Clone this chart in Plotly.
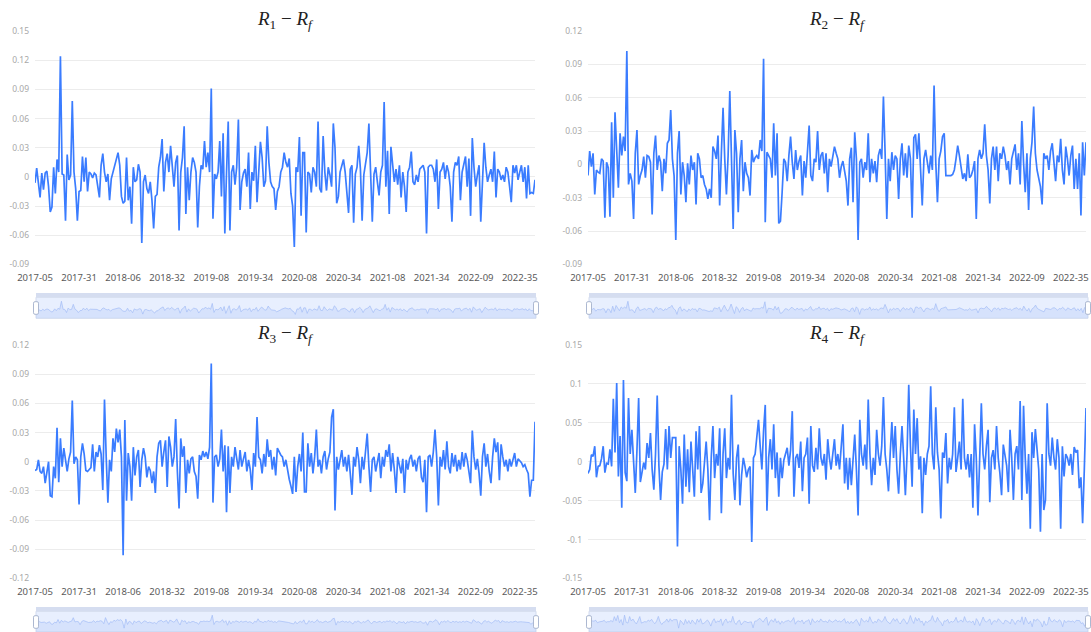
import plotly.graph_objects as go

# ---------------- data ----------------
week_ticks = ["2017-05", "2017-31", "2018-06", "2018-32", "2019-08", "2019-34",
              "2020-08", "2020-34", "2021-08", "2021-34", "2022-09", "2022-35"]

r1 = [
    -0.006, 0.009, -0.006, -0.021, 0.004, -0.013, 0.004, 0.006, -0.010, -0.036,
    -0.031, 0.010, -0.017, 0.018, 0.005, 0.124, 0.003, 0.002, -0.045, 0.023,
    -0.003, 0.002, 0.078, 0.005, -0.012, -0.045, -0.015, -0.014, 0.021, -0.005,
    0.020, -0.015, 0.005, 0.003, -0.001, 0.004, 0.002, -0.012, -0.021, 0.012,
    0.024, 0.005, -0.005, 0.003, -0.024, -0.002, 0.005, 0.012, 0.018, 0.025,
    0.012, -0.020, -0.027, -0.025, 0.020, -0.024, -0.010, -0.048, 0.010, -0.005,
    -0.003, 0.013, 0.005, -0.068, -0.005, 0.002, -0.012, -0.017, -0.005, -0.024,
    -0.053, -0.020, -0.018, 0.010, 0.020, 0.039, -0.015, 0.015, 0.024, 0.005,
    0.032, 0.010, -0.010, 0.015, 0.022, -0.055, 0.005, 0.020, 0.052, -0.038,
    0.010, -0.024, 0.005, 0.020, 0.015, 0.005, -0.052, -0.010, 0.012, 0.008,
    0.037, 0.010, 0.025, 0.005, 0.091, -0.043, 0.003, -0.002, 0.005, 0.037,
    -0.020, 0.045, -0.058, 0.005, 0.057, -0.055, 0.005, 0.012, -0.008, 0.010,
    0.059, -0.034, -0.005, 0.004, 0.008, -0.010, 0.025, -0.033, 0.005, -0.004,
    0.032, -0.026, 0.010, 0.036, 0.020, -0.010, -0.004, 0.052, 0.015, -0.005,
    -0.010, -0.012, -0.034, -0.015, -0.010, 0.005, 0.010, 0.025, 0.015, 0.010,
    0.019, -0.017, -0.030, -0.072, 0.010, 0.005, 0.041, -0.040, 0.025, 0.025,
    -0.057, 0.005, 0.003, -0.016, 0.010, 0.005, -0.010, 0.057, -0.012, -0.016,
    0.042, 0.005, -0.014, 0.010, 0.002, -0.010, 0.055, 0.030, -0.027, -0.020,
    0.005, 0.012, 0.018, 0.005, -0.015, -0.037, 0.008, 0.012, -0.047, 0.003,
    0.010, 0.032, 0.008, -0.045, 0.002, 0.015, 0.025, 0.055, 0.010, -0.046,
    0.003, 0.010, -0.005, -0.019, 0.005, 0.012, 0.077, -0.010, 0.027, -0.038,
    0.031, 0.010, -0.005, 0.008, -0.008, 0.012, -0.021, 0.005, -0.010, -0.036,
    0.005, 0.010, 0.026, -0.005, -0.008, 0.002, -0.005, 0.008, 0.010, 0.012,
    0.005, -0.058, 0.010, 0.012, 0.012, 0.008, -0.005, 0.018, -0.033, 0.005,
    0.008, 0.015, -0.002, 0.012, 0.005, -0.010, -0.046, 0.005, 0.015, 0.012,
    0.021, -0.024, 0.005, 0.015, 0.021, -0.010, 0.019, -0.040, 0.040, 0.010,
    -0.010, 0.002, 0.012, -0.046, -0.010, 0.035, 0.010, -0.005, 0.002, 0.008,
    -0.005, 0.026, -0.021, 0.008, 0.005, -0.003, 0.002, -0.005, 0.010, 0.005,
    -0.010, -0.026, 0.012, 0.004, 0.012, -0.003, 0.005, 0.012, -0.005, 0.010,
    -0.022, 0.012, -0.017, -0.016, -0.017, -0.003,
]

r2 = [
    -0.010, 0.012, -0.002, 0.010, -0.027, -0.005, -0.007, -0.008, 0.005, 0.003,
    -0.048, 0.002, -0.003, -0.047, 0.038, -0.030, 0.047, 0.006, -0.021, 0.028,
    0.008, 0.025, 0.012, 0.102, -0.018, -0.008, -0.015, -0.049, 0.010, 0.031,
    -0.018, -0.010, -0.005, 0.007, -0.012, 0.008, 0.007, 0.002, -0.045, 0.010,
    0.026, -0.005, 0.008, 0.002, -0.024, 0.005, -0.008, 0.019, 0.022, 0.049,
    0.005, -0.010, -0.068, 0.010, 0.030, -0.027, 0.002, -0.010, -0.034, 0.001,
    -0.018, 0.008, -0.005, 0.002, -0.036, 0.010, 0.005, -0.012, -0.010, -0.018,
    -0.022, -0.031, -0.022, -0.030, 0.016, 0.012, 0.005, 0.026, -0.037, 0.010,
    0.051, 0.005, -0.027, 0.008, 0.066, 0.005, -0.058, 0.031, 0.010, -0.043,
    0.005, 0.022, -0.024, 0.002, -0.008, -0.012, -0.028, 0.013, 0.002, 0.006,
    0.008, 0.005, 0.022, 0.012, 0.095, -0.052, 0.011, 0.008, 0.005, -0.012,
    0.037, -0.010, 0.028, -0.053, -0.051, -0.025, 0.005, 0.002, -0.015, 0.008,
    0.025, 0.002, -0.013, 0.013, -0.005, 0.003, 0.008, -0.028, 0.003, -0.012,
    0.012, 0.035, -0.010, -0.015, 0.005, 0.002, 0.030, -0.005, 0.008, 0.011,
    -0.008, 0.010, -0.025, 0.005, -0.002, 0.008, 0.016, 0.010, 0.005, -0.012,
    -0.002, 0.003, -0.008, -0.015, -0.037, 0.005, 0.015, -0.034, 0.029, 0.005,
    -0.068, 0.002, 0.005, -0.012, 0.002, -0.005, 0.028, -0.016, 0.005, -0.008,
    0.003, -0.016, 0.008, 0.014, 0.005, 0.061, 0.010, -0.049, 0.005, -0.015,
    0.011, -0.005, 0.008, 0.005, -0.031, 0.005, 0.019, -0.010, 0.010, -0.012,
    0.017, 0.005, -0.048, 0.024, 0.027, 0.005, 0.028, -0.010, -0.037, 0.005,
    0.013, 0.002, -0.008, 0.008, -0.005, 0.071, 0.002, -0.034, 0.005, 0.012,
    0.025, 0.028, -0.010, -0.010, -0.010, -0.010, -0.009, -0.005, 0.005, 0.017,
    0.008, -0.005, -0.013, -0.008, -0.015, 0.009, -0.012, -0.010, -0.005, 0.003,
    -0.049, 0.005, 0.013, 0.005, 0.010, 0.036, 0.008, -0.005, -0.035, 0.005,
    0.016, -0.005, 0.016, -0.015, 0.010, 0.005, 0.016, 0.008, -0.005, 0.003,
    -0.018, 0.005, 0.012, 0.018, -0.005, 0.010, -0.018, 0.039, 0.002, -0.025,
    0.010, -0.041, 0.005, 0.020, 0.052, 0.010, -0.005, -0.012, -0.020, -0.036,
    0.010, 0.005, 0.008, -0.005, 0.012, 0.019, 0.005, -0.015, 0.008, 0.002,
    0.023, -0.005, -0.018, 0.016, 0.005, -0.010, 0.008, 0.017, -0.022, 0.005,
    -0.022, 0.010, -0.046, 0.020, -0.010, 0.020,
]

r3 = [
    -0.009, -0.008, 0.002, -0.010, -0.012, -0.005, -0.022, -0.008, 0.000, -0.035,
    -0.036, -0.005, -0.017, 0.035, -0.021, 0.024, -0.005, 0.014, 0.002, -0.010,
    0.003, 0.010, 0.063, -0.002, 0.005, 0.002, -0.044, 0.005, 0.019, 0.008,
    -0.009, -0.010, -0.008, -0.006, 0.018, -0.010, 0.010, 0.005, 0.017, 0.008,
    -0.029, 0.064, 0.005, -0.042, 0.002, -0.010, 0.024, 0.010, 0.034, 0.020,
    0.033, 0.005, -0.096, 0.043, -0.040, 0.009, -0.005, -0.040, 0.015, -0.014,
    0.005, 0.012, -0.026, 0.002, 0.014, 0.005, -0.016, -0.005, -0.009, -0.022,
    -0.010, -0.032, 0.005, 0.019, 0.022, -0.005, 0.010, 0.022, -0.026, 0.026,
    0.015, -0.005, 0.005, 0.044, -0.010, -0.048, 0.024, 0.005, 0.016, -0.032,
    0.002, -0.012, 0.003, 0.005, -0.010, -0.015, -0.038, 0.007, 0.002, 0.011,
    0.005, 0.010, 0.003, 0.015, 0.101, -0.042, 0.005, 0.007, -0.005, 0.003,
    0.033, -0.010, 0.017, -0.052, 0.016, -0.032, 0.005, -0.005, 0.015, 0.002,
    -0.008, 0.012, -0.005, 0.003, 0.010, -0.010, 0.002, -0.008, -0.029, 0.009,
    -0.005, 0.046, 0.005, 0.002, -0.012, 0.008, -0.005, 0.023, 0.005, 0.012,
    -0.008, 0.005, -0.014, 0.014, 0.010, 0.007, 0.005, -0.005, 0.002, -0.010,
    -0.018, -0.025, -0.033, 0.005, -0.031, -0.005, 0.008, -0.010, 0.030, -0.031,
    -0.031, 0.019, -0.005, 0.009, -0.012, 0.005, 0.033, -0.005, 0.002, -0.012,
    0.005, 0.011, -0.008, 0.003, 0.010, 0.046, 0.054, -0.050, 0.005, -0.008,
    0.002, 0.012, -0.005, 0.005, -0.010, 0.007, -0.012, -0.034, 0.005, -0.005,
    0.015, 0.002, -0.022, 0.005, -0.008, 0.010, 0.029, -0.005, -0.031, 0.002,
    0.005, -0.010, 0.002, 0.009, -0.017, 0.005, -0.005, 0.012, 0.005, 0.018,
    -0.010, 0.009, -0.008, -0.032, 0.005, -0.002, -0.012, 0.003, -0.032, 0.002,
    -0.008, 0.003, 0.007, -0.005, 0.002, -0.010, 0.003, 0.006, -0.016, -0.021,
    0.002, -0.052, 0.005, 0.007, -0.005, 0.010, 0.033, 0.005, -0.045, 0.005,
    -0.005, 0.012, -0.008, 0.021, -0.005, -0.012, 0.009, -0.005, 0.007, -0.010,
    0.002, -0.008, 0.010, -0.005, 0.009, 0.002, -0.010, -0.022, 0.032, 0.005,
    -0.008, 0.003, -0.012, -0.035, 0.005, 0.019, -0.005, 0.008, -0.010, -0.022,
    0.005, 0.024, 0.010, 0.020, -0.019, 0.018, 0.005, -0.005, 0.002, -0.010,
    0.003, -0.005, 0.002, 0.009, -0.005, 0.003, 0.001, -0.001, -0.005, -0.003,
    -0.008, -0.012, -0.036, -0.019, -0.019, 0.041,
]

r4 = [
    -0.015, -0.010, 0.009, 0.007, 0.020, -0.020, -0.006, -0.005, 0.004, 0.020,
    -0.014, -0.002, -0.003, 0.016, -0.006, 0.081, 0.012, 0.101, -0.019, 0.033,
    -0.059, 0.105, -0.014, -0.025, 0.082, 0.010, 0.041, -0.005, -0.040, 0.015,
    0.082, -0.026, -0.014, -0.001, -0.010, 0.024, 0.005, 0.037, -0.010, -0.036,
    0.010, 0.085, -0.005, -0.049, -0.013, -0.003, 0.042, -0.010, 0.046, 0.005,
    0.031, 0.031, 0.031, -0.109, 0.020, -0.010, -0.054, 0.035, -0.032, 0.016,
    -0.039, 0.026, -0.010, -0.045, 0.039, -0.010, 0.046, -0.040, -0.028, 0.005,
    0.026, -0.010, -0.075, 0.005, 0.046, -0.021, 0.010, -0.005, 0.043, -0.066,
    0.010, 0.043, -0.021, 0.005, -0.010, 0.086, -0.015, -0.049, 0.005, 0.022,
    -0.056, -0.017, 0.005, -0.006, -0.020, -0.010, -0.006, -0.103, 0.005, 0.010,
    0.035, 0.054, 0.020, -0.010, 0.040, 0.073, -0.063, 0.005, 0.029, -0.010,
    0.048, -0.021, 0.012, -0.045, 0.005, -0.021, 0.002, 0.010, 0.018, -0.005,
    0.015, 0.065, -0.045, 0.005, 0.010, -0.008, 0.026, -0.038, 0.005, 0.010,
    0.031, -0.054, 0.046, -0.005, -0.013, 0.018, -0.010, 0.043, 0.005, -0.005,
    0.010, -0.023, 0.029, 0.005, -0.010, 0.010, 0.029, -0.005, 0.010, -0.010,
    0.020, 0.048, -0.028, 0.005, -0.036, 0.005, -0.030, 0.010, 0.035, -0.010,
    -0.069, 0.054, 0.010, -0.005, 0.022, -0.010, 0.080, 0.010, -0.030, 0.005,
    -0.017, 0.041, 0.010, -0.005, 0.020, 0.083, 0.010, -0.010, -0.038, 0.010,
    0.051, 0.005, 0.046, -0.010, -0.041, 0.010, 0.046, 0.005, -0.043, 0.010,
    0.099, 0.020, -0.032, 0.067, 0.010, 0.056, -0.010, 0.007, -0.066, 0.005,
    -0.017, 0.010, 0.020, 0.097, 0.010, -0.010, 0.070, 0.012, -0.010, -0.073,
    0.012, 0.005, 0.037, -0.028, 0.005, -0.010, 0.010, 0.070, -0.013, 0.005,
    0.026, -0.010, 0.081, 0.005, -0.010, 0.010, -0.020, 0.010, -0.059, 0.048,
    0.005, -0.069, 0.010, 0.075, 0.010, -0.010, 0.020, 0.041, -0.052, 0.005,
    0.015, -0.010, 0.046, 0.005, -0.015, -0.043, 0.022, 0.010, -0.005, -0.039,
    0.041, 0.005, -0.049, 0.010, 0.020, -0.010, 0.078, -0.049, 0.072, 0.005,
    -0.041, 0.010, -0.086, 0.038, 0.005, 0.042, 0.010, -0.010, -0.090, 0.010,
    -0.062, -0.049, 0.075, 0.010, -0.005, 0.031, 0.005, -0.010, 0.029, 0.005,
    -0.086, 0.020, -0.019, 0.010, 0.005, -0.005, 0.010, -0.017, 0.019, 0.012,
    0.015, -0.034, -0.020, -0.079, -0.010, 0.069,
]

y1_ticks = [-0.09, -0.06, -0.03, 0, 0.03, 0.06, 0.09, 0.12, 0.15]
y2_ticks = [-0.09, -0.06, -0.03, 0, 0.03, 0.06, 0.09, 0.12]
y3_ticks = [-0.12, -0.09, -0.06, -0.03, 0, 0.03, 0.06, 0.09, 0.12]
y4_ticks = [-0.15, -0.1, -0.05, 0, 0.05, 0.1, 0.15]

titles = [
    "<i>R</i><sub>1</sub> − <i>R</i><sub><i>f</i></sub>",
    "<i>R</i><sub>2</sub> − <i>R</i><sub><i>f</i></sub>",
    "<i>R</i><sub>3</sub> − <i>R</i><sub><i>f</i></sub>",
    "<i>R</i><sub>4</sub> − <i>R</i><sub><i>f</i></sub>",
]

# ---------------- layout geometry (pixels) ----------------
W, H = 1091, 632
BLUE = "#3a7cff"
TICK_STEP = 26


def fx(p):
    return p / W


def fy(p):
    return 1 - p / H


# (left, right, top, bottom) of plot area; slider (left, right, strip_top, body_top, bottom)
panels = [
    dict(y=r1, ticks=y1_ticks, title=titles[0], box=(35, 535, 31, 264.5),
         slider=(36, 536, 293, 297.3, 318.3)),
    dict(y=r2, ticks=y2_ticks, title=titles[1], box=(588, 1086, 31, 264.5),
         slider=(589, 1088, 293, 297.3, 318.3)),
    dict(y=r3, ticks=y3_ticks, title=titles[2], box=(35, 535, 345, 578.5),
         slider=(36, 536, 607, 611.3, 632)),
    dict(y=r4, ticks=y4_ticks, title=titles[3], box=(588, 1086, 345, 578.5),
         slider=(589, 1088, 607, 611.3, 632)),
]

fig = go.Figure()
layout = dict(
    width=W, height=H, autosize=False,
    margin=dict(l=0, r=0, t=0, b=0, pad=0, autoexpand=False),
    paper_bgcolor="white",
    plot_bgcolor="rgba(0,0,0,0)",
    showlegend=False,
    font=dict(family="Noto Sans, Open Sans, sans-serif"),
)
shapes = []
annotations = []


def rounded_rect(x0, x1, y0, y1, r):
    rx, ry = r / W, r / H
    X0, X1, Y0, Y1 = fx(x0), fx(x1), fy(y1), fy(y0)  # paper coords, Y0 bottom
    return (f"M {X0+rx},{Y0} L {X1-rx},{Y0} Q {X1},{Y0} {X1},{Y0+ry} "
            f"L {X1},{Y1-ry} Q {X1},{Y1} {X1-rx},{Y1} L {X0+rx},{Y1} "
            f"Q {X0},{Y1} {X0},{Y1-ry} L {X0},{Y0+ry} Q {X0},{Y0} {X0+rx},{Y0} Z")


for k, p in enumerate(panels, start=1):
    ys = p["y"]
    n = len(ys)
    xs = list(range(n))
    l, r, t, b = p["box"]
    ticks = p["ticks"]

    fig.add_trace(go.Scatter(
        x=xs, y=ys, mode="lines",
        line=dict(color=BLUE, width=1.7),
        xaxis=f"x{k}", yaxis=f"y{k}",
        hovertemplate="%{y}<extra></extra>",
    ))
    layout[f"xaxis{k}"] = dict(
        domain=[fx(l), fx(r)], anchor=f"y{k}",
        range=[0, n - 1],
        tickvals=list(range(0, n, TICK_STEP)), ticktext=week_ticks,
        showgrid=False, zeroline=False, showline=False, ticks="",
        tickfont=dict(size=9.5, color="#5a5a5a"),
        ticklabelstandoff=6, automargin=False,
        fixedrange=True,
    )
    layout[f"yaxis{k}"] = dict(
        domain=[fy(b), fy(t)], anchor=f"x{k}",
        range=[ticks[0], ticks[-1]],
        tickvals=ticks, ticktext=[f"{v:g}" for v in ticks],
        showgrid=True, gridcolor="#ececec", gridwidth=1,
        zeroline=False, showline=False, ticks="",
        tickfont=dict(size=8.5, color="#a8a8a8"),
        ticklabelstandoff=5, automargin=False,
        fixedrange=True,
    )
    annotations.append(dict(
        text=p["title"], xref="paper", yref="paper",
        x=fx((l + r) / 2), y=fy(t - 11), xanchor="center", yanchor="middle",
        showarrow=False, font=dict(family="Liberation Serif, DejaVu Serif, serif",
                                    size=19, color="#222222"),
    ))

    # ---- data-zoom slider ----
    sl, sr, st, sbt, sb = p["slider"]
    s = k + 4
    lo_d, hi_d = min(ys), max(ys)
    pad = (hi_d - lo_d) * 0.3
    lo, hi = lo_d - pad, hi_d + pad
    shapes.append(dict(type="rect", xref="paper", yref="paper",
                       x0=fx(sl), x1=fx(sr), y0=fy(sb), y1=fy(sbt),
                       fillcolor="#e8effe", line=dict(color="#d2dbee", width=1),
                       layer="below"))
    shapes.append(dict(type="rect", xref="paper", yref="paper",
                       x0=fx(sl), x1=fx(sr), y0=fy(sbt), y1=fy(st),
                       fillcolor="#d5ddf0", line=dict(width=0),
                       layer="below"))
    fig.add_trace(go.Scatter(
        x=xs, y=[lo] * n, mode="lines", line=dict(width=0, color="rgba(0,0,0,0)"),
        xaxis=f"x{s}", yaxis=f"y{s}", hoverinfo="skip",
    ))
    fig.add_trace(go.Scatter(
        x=xs, y=ys, mode="lines", fill="tonexty",
        fillcolor="rgba(143,176,247,0.20)",
        line=dict(color="#a3bdf6", width=0.7),
        xaxis=f"x{s}", yaxis=f"y{s}", hoverinfo="skip",
    ))
    layout[f"xaxis{s}"] = dict(domain=[fx(sl), fx(sr)], anchor=f"y{s}",
                               range=[0, n - 1], visible=False, fixedrange=True,
                               automargin=False)
    layout[f"yaxis{s}"] = dict(domain=[fy(sb), fy(sbt)], anchor=f"x{s}",
                               range=[lo, hi], visible=False, fixedrange=True,
                               automargin=False)
    hy0 = sbt + 4.4
    hy1 = hy0 + 12.6
    for hx in (sl, sr):
        shapes.append(dict(type="path", xref="paper", yref="paper",
                           path=rounded_rect(hx - 2.5, hx + 2.5, hy0, hy1, 1.5),
                           fillcolor="white", line=dict(color="#acb8d1", width=1),
                           layer="above"))

layout["shapes"] = shapes
layout["annotations"] = annotations
fig.update_layout(**layout)
fig.write_html(
    "out.html",
    config={"displayModeBar": False},
    post_script="document.body.style.margin='0';document.body.style.padding='0';"
                "document.body.style.overflow='hidden';",
)
